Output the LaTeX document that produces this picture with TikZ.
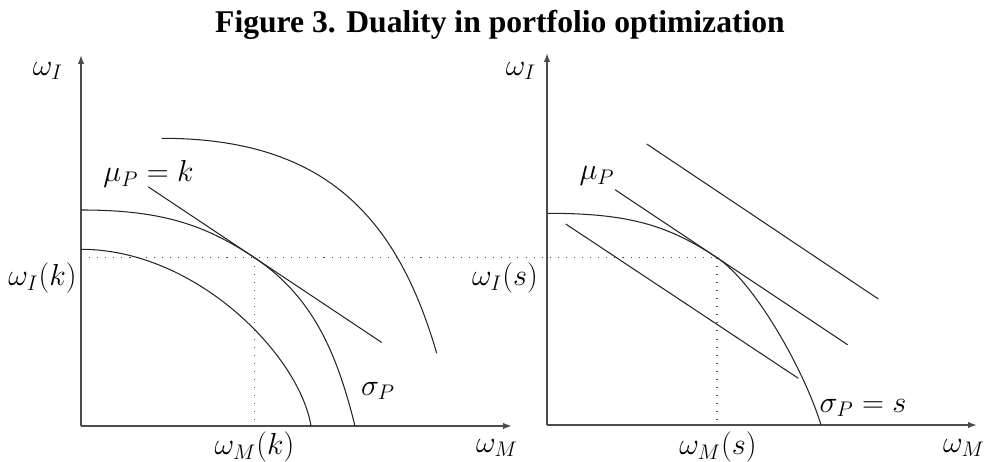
\documentclass[tikz,border=0pt]{standalone}
\usepackage{fontspec}
\usetikzlibrary{arrows.meta}
\newfontfamily\headfont{Liberation Serif}
\tikzset{
	axis/.style={line width=0.9pt, black!70, -{Latex[length=5pt,width=3.6pt]}},
	curve/.style={line width=0.6pt, black!85},
	guide/.style={loosely dotted, line width=0.6pt, black!70},
	lbl/.style={inner sep=0pt, font=\fontsize{16.5}{20}\selectfont},
}
\begin{document}
\begin{tikzpicture}[x=0.02cm, y=0.02cm]
	\useasboundingbox (0,0) rectangle (987,462);
	\node[anchor=base, font=\headfont\bfseries\fontsize{18}{22}\selectfont] (title) at (500,429) {Figure 3. Duality in portfolio optimization};
	
	\coordinate (O1) at (81,36);
	\coordinate (T1) at (254.5,204.3);
	\coordinate (O2) at (547,37);
	\coordinate (T2) at (717,204.3);
	
	\draw[axis] (O1) -- (81,407);
	\draw[axis] (O1) -- (512,36);
	\draw[axis] (O2) -- (547,409);
	\draw[axis] (O2) -- (977,37);
	
	\draw[guide] (81,204.3) -- (T2);
	\draw[guide] (T1) -- (254.5,36);
	\draw[guide] (T2) -- (717,37);
	
	\draw[curve] (81,212.7) .. controls (196,212.7) and (299.5,106.7) .. (311,36);
	\draw[curve] (81,252) .. controls (161,252) and (204.5,237.6) .. (T1) .. controls (314.5,164.3) and (337.5,106) .. (355,36);
	\draw[curve] (161.7,323.7) .. controls (321.7,323.7) and (396.1,248.7) .. (436.7,108.7);
	\draw[curve] (148.3,275.1) -- (381.7,119.5);
	
	\draw[curve] (547,248.7) .. controls (627,248.7) and (667,237.6) .. (T2) .. controls (757,177.6) and (806,87) .. (821,37);
	\draw[curve] (646.7,318) -- (878.3,163);
	\draw[curve] (615,272.3) -- (847.7,117.2);
	\draw[curve] (565.7,238) -- (798.3,83.7);
	
	\node[lbl] (wI1) at (48,391) {$\omega_I$};
	\node[lbl] (wIk) at (42.5,184) {$\omega_I(k)$};
	\node[lbl] (wMk) at (254.5,15) {$\omega_M(k)$};
	\node[lbl] (wM1) at (497,14) {$\omega_M$};
	\node[lbl] (muk) at (148.5,288) {$\mu_P = k$};
	\node[lbl] (sig1) at (378,71) {$\sigma_P$};
	
	\node[lbl] (wI2) at (521,391) {$\omega_I$};
	\node[lbl] (wIs) at (505,184) {$\omega_I(s)$};
	\node[lbl] (wMs) at (718,15) {$\omega_M(s)$};
	\node[lbl] (wM2) at (964,14) {$\omega_M$};
	\node[lbl] (mus) at (597,286) {$\mu_P$};
	\node[lbl] (sigs) at (863,54) {$\sigma_P = s$};
\end{tikzpicture}
\end{document}
